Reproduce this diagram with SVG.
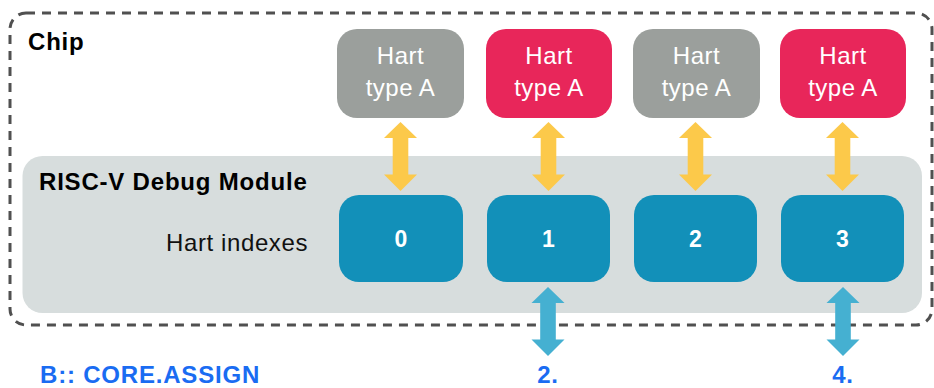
<svg xmlns="http://www.w3.org/2000/svg" width="934" height="388" viewBox="0 0 934 388">
  <defs>
    <style>
      text { font-family: "Liberation Sans", Arial, sans-serif; }
      .chip { fill: none; stroke: #505050; stroke-width: 3; stroke-dasharray: 9 7; }
      .panel { fill: #d7dddd; }
      .hart-gray { fill: #9b9f9c; }
      .hart-red { fill: #e8265a; }
      .hart-txt { fill: #ffffff; font-size: 24px; text-anchor: middle; letter-spacing: 0.5px; }
      .idx { fill: #1290b9; }
      .idx-txt { fill: #ffffff; font-size: 23px; font-weight: bold; text-anchor: middle; }
      .title { fill: #000000; font-size: 24px; font-weight: bold; letter-spacing: 0.8px; }
      .label { fill: #111111; font-size: 24px; letter-spacing: 0.6px; }
      .blue-txt { fill: #1a6cf2; font-size: 24px; font-weight: bold; letter-spacing: 0.8px; }
      .ya { fill: #fcc94a; }
      .ba { fill: #45b0d1; }
    </style>
    <path id="dbl" d="M0,0 L16.5,16 L7.8,16 L7.8,52.5 L16.5,52.5 L0,69 L-16.5,52.5 L-7.8,52.5 L-7.8,16 L-16.5,16 Z"/>
  </defs>

  <g id="chip">
    <rect class="chip" x="10" y="13" width="922" height="312" rx="16"/>
    <text class="title" x="28" y="50">Chip</text>
  </g>

  <g id="debug-module">
    <rect class="panel" x="22.5" y="156" width="899.5" height="157" rx="20"/>
    <text class="title" x="39" y="190">RISC-V Debug Module</text>
    <text class="label" x="308" y="251" text-anchor="end">Hart indexes</text>
  </g>

  <g id="hart0">
    <rect class="hart-gray" x="337" y="29" width="127" height="89" rx="20"/>
    <text class="hart-txt" x="400.5" y="64">Hart</text>
    <text class="hart-txt" x="400.5" y="96">type A</text>
  </g>
  <g id="hart1">
    <rect class="hart-red" x="486" y="29" width="126" height="89" rx="20"/>
    <text class="hart-txt" x="549" y="64">Hart</text>
    <text class="hart-txt" x="549" y="96">type A</text>
  </g>
  <g id="hart2">
    <rect class="hart-gray" x="633" y="29" width="127" height="89" rx="20"/>
    <text class="hart-txt" x="696.5" y="64">Hart</text>
    <text class="hart-txt" x="696.5" y="96">type A</text>
  </g>
  <g id="hart3">
    <rect class="hart-red" x="780" y="29" width="126" height="89" rx="20"/>
    <text class="hart-txt" x="843" y="64">Hart</text>
    <text class="hart-txt" x="843" y="96">type A</text>
  </g>

  <g id="idx0">
    <rect class="idx" x="339" y="195" width="124" height="87" rx="20"/>
    <text class="idx-txt" x="401" y="247">0</text>
  </g>
  <g id="idx1">
    <rect class="idx" x="487" y="195" width="123" height="87" rx="20"/>
    <text class="idx-txt" x="548.5" y="247">1</text>
  </g>
  <g id="idx2">
    <rect class="idx" x="634" y="195" width="123" height="87" rx="20"/>
    <text class="idx-txt" x="695.5" y="247">2</text>
  </g>
  <g id="idx3">
    <rect class="idx" x="781" y="195" width="123" height="87" rx="20"/>
    <text class="idx-txt" x="842.5" y="247">3</text>
  </g>

  <g id="connectors">
    <use href="#dbl" class="ya" x="400.5" y="122"/>
    <use href="#dbl" class="ya" x="548.5" y="122"/>
    <use href="#dbl" class="ya" x="695.5" y="122"/>
    <use href="#dbl" class="ya" x="842.5" y="122"/>
    <use href="#dbl" class="ba" x="548" y="287"/>
    <use href="#dbl" class="ba" x="843" y="287"/>
  </g>

  <g id="labels">
    <text class="blue-txt" x="40" y="383">B:: CORE.ASSIGN</text>
    <text class="blue-txt" x="548" y="383" text-anchor="middle">2.</text>
    <text class="blue-txt" x="843" y="383" text-anchor="middle">4.</text>
  </g>
</svg>
